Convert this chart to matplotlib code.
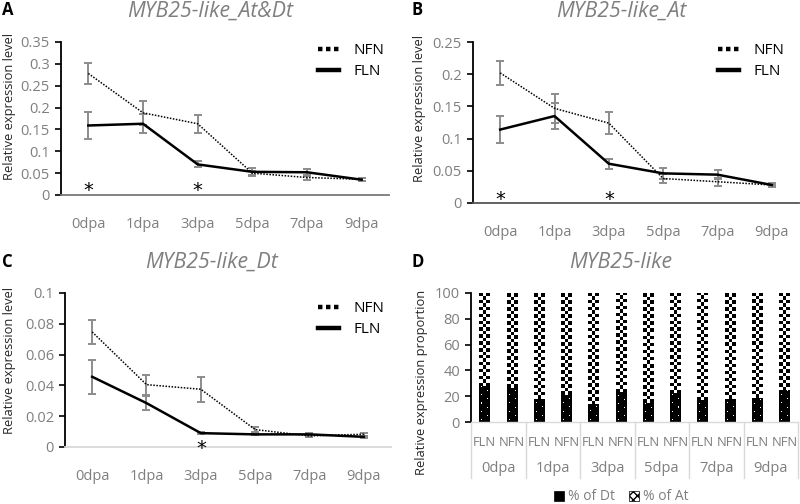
import numpy as np
import matplotlib
matplotlib.use("Agg")
import matplotlib.pyplot as plt
from matplotlib.lines import Line2D
from matplotlib.patches import Patch
import matplotlib.transforms as mtrans

plt.rcParams['font.family'] = ['Open Sans', 'DejaVu Sans']

days = ["0dpa", "1dpa", "3dpa", "5dpa", "7dpa", "9dpa"]

# Panel A: MYB25-like_At&Dt
a_nfn = [0.278, 0.188, 0.163, 0.050, 0.040, 0.036]
a_nfn_err = [0.024, 0.027, 0.021, 0.006, 0.005, 0.003]
a_fln = [0.159, 0.163, 0.070, 0.053, 0.052, 0.035]
a_fln_err = [0.031, 0.022, 0.007, 0.008, 0.008, 0.003]
a_star = [0, 2]

# Panel B: MYB25-like_At
b_nfn = [0.202, 0.147, 0.124, 0.038, 0.033, 0.028]
b_nfn_err = [0.019, 0.022, 0.017, 0.007, 0.006, 0.003]
b_fln = [0.114, 0.135, 0.061, 0.046, 0.044, 0.028]
b_fln_err = [0.021, 0.020, 0.008, 0.008, 0.007, 0.002]
b_star = [0, 2]

# Panel C: MYB25-like_Dt
c_nfn = [0.0747, 0.0405, 0.0375, 0.0113, 0.0072, 0.0083]
c_nfn_err = [0.0076, 0.0065, 0.0082, 0.0015, 0.0008, 0.0010]
c_fln = [0.0456, 0.0285, 0.0090, 0.0082, 0.0082, 0.0066]
c_fln_err = [0.0110, 0.0045, 0.0005, 0.0007, 0.0006, 0.0005]
c_star = [2]

# Panel D: MYB25-like proportions
d_groups = days
d_sub = ["FLN", "NFN"]
d_dt = [28, 26.5, 18, 21, 14, 23, 15, 22.5, 17, 18, 18.5, 25]
d_at = [100 - v for v in d_dt]

W, H = 800, 504
fig = plt.figure(figsize=(8, 5.04), dpi=100)

def box(l, t, r, b):
    return [l / W, 1 - b / H, (r - l) / W, (b - t) / H]

TICKC = '#7f7f7f'
ERRC = '#8c8c8c'

def line_panel(rect, nfn, nfn_err, fln, fln_err, ymax, ystep, fmt, stars, star_y,
               xaxis_color, leg_xy):
    ax = fig.add_axes(rect)
    x = np.arange(len(days))
    ax.errorbar(x, nfn, yerr=nfn_err, color='black', lw=1.1, ls=(0, (1, 1)),
                ecolor=ERRC, elinewidth=1.4, capsize=3, capthick=1.4, zorder=3)
    ax.errorbar(x, fln, yerr=fln_err, color='black', lw=1.8, ls='-',
                ecolor=ERRC, elinewidth=1.4, capsize=3, capthick=1.4, zorder=3)
    for s in stars:
        ax.text(s, star_y, '*', ha='center', va='center', fontsize=14,
                color='black', family='DejaVu Sans')
    ax.set_xlim(-0.5, len(days) - 0.5)
    ax.set_ylim(0, ymax)
    ticks = np.arange(0, ymax + ystep / 2, ystep)
    ax.set_yticks(ticks)
    ax.set_yticklabels([fmt(t) for t in ticks])
    ax.set_xticks(x)
    ax.set_xticklabels(days)
    for sp in ['top', 'right']:
        ax.spines[sp].set_visible(False)
    ax.spines['left'].set_color('black')
    ax.spines['left'].set_linewidth(1.3)
    ax.spines['bottom'].set_color(xaxis_color)
    ax.spines['bottom'].set_linewidth(1.3)
    ax.tick_params(axis='y', length=4, width=1.2, color='black', labelsize=10.5,
                   labelcolor=TICKC, pad=4)
    ax.tick_params(axis='x', length=0, labelsize=10.5, labelcolor=TICKC, pad=16)
    handles = [Line2D([], [], color='black', lw=3.2, ls=(0, (1, 0.8))),
               Line2D([], [], color='black', lw=3.2, ls='-')]
    ax.legend(handles, ['NFN', 'FLN'], loc='upper left', frameon=False,
              bbox_to_anchor=(leg_xy[0] / W, 1 - leg_xy[1] / H),
              bbox_transform=fig.transFigure, fontsize=11, handlelength=1.35,
              handletextpad=1.0, labelspacing=0.42, borderpad=0, borderaxespad=0)
    return ax

def fmt_a(t):
    s = f"{t:.2f}".rstrip('0').rstrip('.')
    return s

axA = line_panel(box(61, 42, 389, 195), a_nfn, a_nfn_err, a_fln, a_fln_err,
                 0.35, 0.05, fmt_a, a_star, 0.010, '#7a7a7a', (318, 43))
axB = line_panel(box(473, 42, 799, 203), b_nfn, b_nfn_err, b_fln, b_fln_err,
                 0.25, 0.05, fmt_a, b_star, 0.006, '#555555', (718, 43))
axC = line_panel(box(65, 293, 391, 447), c_nfn, c_nfn_err, c_fln, c_fln_err,
                 0.1, 0.02, fmt_a, c_star, -0.0008, '#d9d9d9', (318, 301))

# Panel D
axD = fig.add_axes(box(471, 293, 798, 422))
n = len(d_dt)
xd = np.arange(n)
bw = 0.38
bars_dt = axD.bar(xd, d_dt, width=bw, color='none', linewidth=0)
bars_at = axD.bar(xd, d_at, width=bw, bottom=d_dt, color='none', linewidth=0)

for p in bars_dt:
    x0, y0 = p.get_x(), p.get_y()
    w, h = p.get_width(), p.get_height()
    rows = max(int(round(h * 1.3)), 1)
    arr = np.zeros((rows, 10))
    for r in range(2, rows, 8):
        arr[r, 2] = 1
    for r in range(6, rows, 8):
        arr[r, 7] = 1
    im = axD.imshow(arr, extent=[x0, x0 + w, y0, y0 + h], origin='lower',
                    cmap='gray', vmin=0, vmax=1, interpolation='nearest',
                    aspect='auto', zorder=2)
    im.set_clip_path(p)

for p in bars_at:
    x0, y0 = p.get_x(), p.get_y()
    w, h = p.get_width(), p.get_height()
    sq = 2.7
    rows = max(int(round(h / sq)), 1)
    arr = (np.add.outer(np.arange(rows), np.arange(3)) % 2).astype(float)
    arr = arr[::-1]
    im = axD.imshow(arr, extent=[x0, x0 + w, y0, y0 + h], origin='lower',
                    cmap='gray', vmin=0, vmax=1, interpolation='nearest',
                    aspect='auto', zorder=2)
    im.set_clip_path(p)

axD.set_xlim(-0.5, n - 0.5)
axD.set_ylim(0, 100)
axD.set_yticks(np.arange(0, 101, 20))
axD.set_xticks([])
for sp in ['top', 'right']:
    axD.spines[sp].set_visible(False)
axD.spines['left'].set_color('black')
axD.spines['left'].set_linewidth(1.3)
axD.spines['bottom'].set_color('#d9d9d9')
axD.spines['bottom'].set_linewidth(1.0)
axD.tick_params(axis='y', length=4, width=1.2, color='black', labelsize=10.5,
                labelcolor=TICKC, pad=4)

trans = mtrans.blended_transform_factory(axD.transData, axD.transAxes)
axh = 422 - 293
for i in range(n):
    axD.text(xd[i], -20 / axh, d_sub[i % 2], transform=trans, ha='center',
             va='center', fontsize=9.3, color=TICKC, clip_on=False)
for g, lab in enumerate(d_groups):
    axD.text(2 * g + 0.5, -47 / axh, lab, transform=trans, ha='center',
             va='center', fontsize=10.5, color=TICKC, clip_on=False)
for g in range(len(d_groups) + 1):
    axD.plot([2 * g - 0.5, 2 * g - 0.5], [0, -56 / axh], transform=trans,
             color='#d9d9d9', lw=1.0, clip_on=False)

leg_handles = [Patch(facecolor='black', edgecolor='black', lw=0.5),
               Patch(facecolor='white', edgecolor='black', hatch='xxxx', lw=0.5)]
fig.legend(leg_handles, ['% of Dt', '% of At'], loc='center', ncol=2,
           bbox_to_anchor=(621 / W, 1 - 497 / H), frameon=False, fontsize=10,
           handlelength=0.75, handleheight=0.75, handletextpad=0.25,
           columnspacing=1.0, labelcolor=TICKC)

# titles, panel letters, y labels
titles = ["MYB25-like_At&Dt", "MYB25-like_At", "MYB25-like_Dt", "MYB25-like"]
tpos = [(210, 11), (621, 11), (212, 262), (621, 262)]
for t, (x, y) in zip(titles, tpos):
    fig.text(x / W, 1 - y / H, t, ha='center', va='center', fontsize=15.3,
             style='italic', color='#7f7f7f')
letters = ["A", "B", "C", "D"]
lpos = [(2, 10), (411, 10), (2, 262), (411, 262)]
for t, (x, y) in zip(letters, lpos):
    fig.text(x / W, 1 - y / H, t, ha='left', va='center', fontsize=12,
             fontweight='bold', color='black')
ylabs = ["Relative expression level"] * 3 + ["Relative expression proportion"]
ypos = [(10, 106), (420, 108), (10, 361), (422, 382)]
for t, (x, y) in zip(ylabs, ypos):
    fig.text(x / W, 1 - y / H, t, ha='center', va='center', fontsize=9.3,
             rotation=90, color='#262626')

fig.savefig("out.png", dpi=100)
